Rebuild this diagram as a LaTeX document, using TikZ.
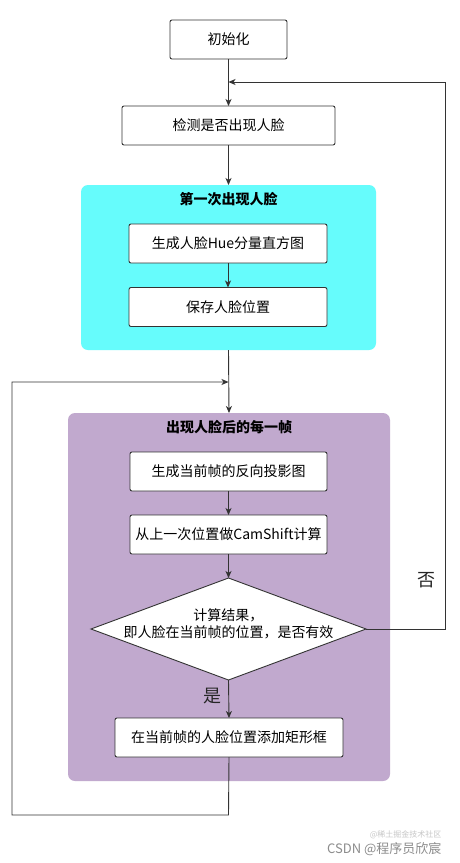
\documentclass[tikz,border=0pt]{standalone}
\usepackage{fontspec}
\setmainfont{Noto Sans CJK SC}
\usetikzlibrary{shapes.geometric,arrows.meta}
\definecolor{cyanfill}{RGB}{102,252,252}
\definecolor{purplefill}{RGB}{193,169,206}
\definecolor{linec}{RGB}{51,51,51}
\begin{document}
\begin{tikzpicture}[x=1pt,y=-1pt,
  stepbox/.style={draw=linec,line width=0.9pt,rounded corners=2pt,fill=white,
    inner sep=0pt,outer sep=0pt,font=\fontsize{14}{17}\selectfont,minimum height=39pt},
  groupbox/.style={fill=#1,rounded corners=7pt,inner sep=0pt,outer sep=0pt},
  grouptitle/.style={font=\fontsize{14}{17}\selectfont\bfseries},
  conn/.style={draw=linec,line width=0.9pt},
  arr/.style={conn,-{Stealth[length=7pt,width=6pt,inset=2pt]}},
  bigl/.style={font=\fontsize{18}{20}\selectfont,text=black!85}
]
\useasboundingbox (0,0) rectangle (460,863);
\fill[white] (0,0) rectangle (460,863);

% groups
\node[groupbox=cyanfill,minimum width=295pt,minimum height=165pt] (g1) at (228.5,267.5) {};
\node[groupbox=purplefill,minimum width=322pt,minimum height=368pt] (g2) at (229,597) {};
\node[grouptitle] (t1) at (228.5,199) {第一次出现人脸};
\node[grouptitle] (t2) at (229,427) {出现人脸后的每一帧};

% steps
\node[stepbox,minimum width=117pt] (init) at (228.5,39.5) {初始化};
\node[stepbox,minimum width=213pt] (detect) at (228.5,125.5) {检测是否出现人脸};
\node[stepbox,minimum width=198pt] (hue) at (228,243.5) {生成人脸Hue分量直方图};
\node[stepbox,minimum width=198pt] (save) at (228,307) {保存人脸位置};
\node[stepbox,minimum width=197pt] (bp) at (228.5,471.5) {生成当前帧的反向投影图};
\node[stepbox,minimum width=197pt] (cs) at (228.5,534.5) {从上一次位置做CamShift计算};
\node[diamond,draw=linec,line width=0.9pt,fill=white,inner sep=0pt,outer sep=0pt,
  minimum width=275pt,minimum height=102pt] (dec) at (228.5,629) {};
\node[align=center,font=\fontsize{14}{17}\selectfont] (dect) at (228.5,624) {计算结果，\\即人脸在当前帧的位置，是否有效};
\node[stepbox,minimum width=228pt] (rect) at (229,737.5) {在当前帧的人脸位置添加矩形框};

% junctions
\coordinate (j1) at (228.5,82);
\coordinate (j2) at (228.5,382);
\coordinate (cR) at (445,629);
\coordinate (cB) at (228.5,815);
\coordinate (cL) at (12,815);

% connectors
\draw[arr] (init.south) -- (detect.north);
\draw[arr] (detect.south) -- (g1.north);
\draw[arr] (hue.south) -- (save.north);
\draw[arr] (g1.south) -- (g2.north);
\draw[arr] (bp.south) -- (cs.north);
\draw[arr] (cs.south) -- (dec.north);
\draw[arr] (dec.south) -- (rect.north);
\draw[arr] (dec.east) -- (cR) |- (j1);
\draw[arr] (rect.south) -- (cB) -- (cL) |- (j2);

% labels
\node[bigl] (no) at (426,580) {否};
\node[bigl] (yes) at (212,696) {是};

% watermark
\node[anchor=east,font=\fontsize{8}{9}\selectfont,text=black!22] (wm2) at (445,835) {@稀土掘金技术社区};
\node[anchor=east,font=\fontsize{13}{14}\selectfont,text=black!45] (wm1) at (445,849) {CSDN @程序员欣宸};
\end{tikzpicture}
\end{document}
